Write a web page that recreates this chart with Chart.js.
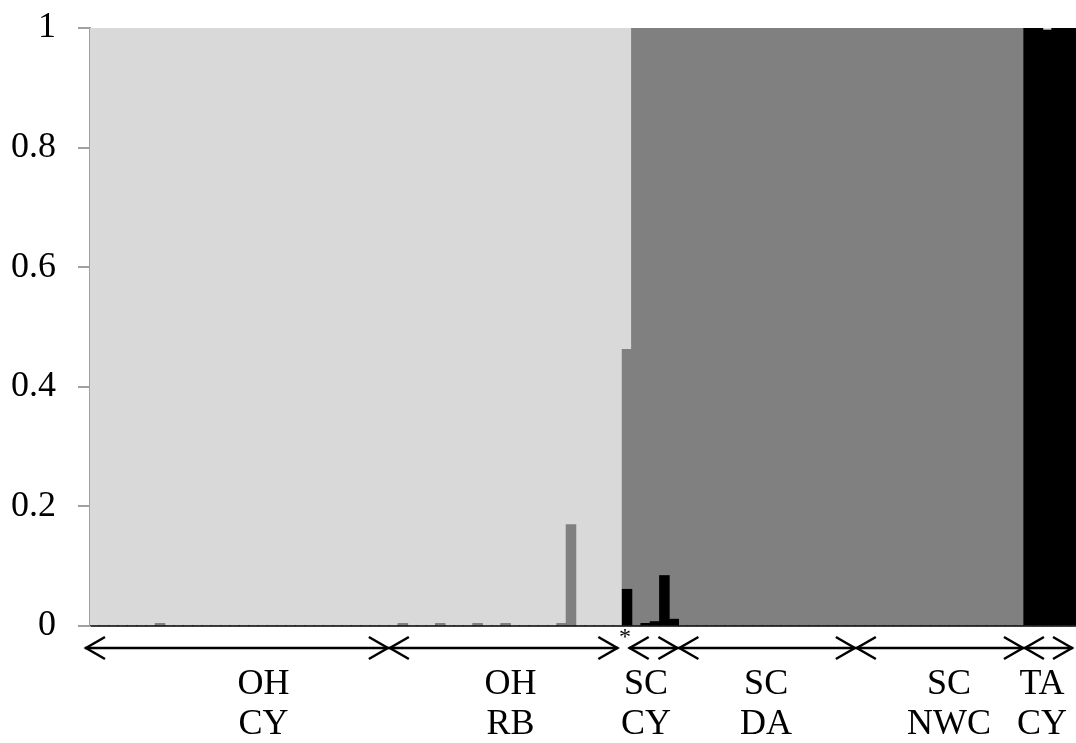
<!DOCTYPE html>
<html>
<head>
<meta charset="utf-8">
<script src="https://cdn.jsdelivr.net/npm/chart.js@4/dist/chart.umd.min.js"></script>
<style>
  html, body { margin: 0; padding: 0; background: #ffffff; overflow: hidden; }
  canvas { display: block; }
</style>
</head>
<body>
<canvas id="c" width="1080" height="743"></canvas>
<script>
// ---- Population groups (label lines, number of individuals) ----
const groupLine1 = ["OH", "OH", "", "SC", "SC", "SC", "TA"];
const groupLine2 = ["CY", "RB", "", "CY", "DA", "NWC", "CY"];
const groupSizes = [32, 25, 1, 5, 19, 18, 6];
const groupMarks = ["arrow", "arrow", "*", "arrow", "arrow", "arrow", "arrow"];

// ---- Y axis ticks ----
const yTicks = [0, 0.2, 0.4, 0.6, 0.8, 1];

// ---- Cluster membership per individual (106 individuals) ----
// cluster 3 (black, bottom of stack)
const clusterBlack = [
  0,0,0,0,0,0,0,0,0,0, 0,0,0,0,0,0,0,0,0,0, 0,0,0,0,0,0,0,0,0,0, 0,0,
  0,0,0,0,0,0,0,0,0,0, 0,0,0,0,0,0,0,0,0,0, 0,0,0,0,0,
  0.061,
  0,0.004,0.007,0.084,0.011,
  0,0,0,0,0,0,0,0,0,0, 0,0,0,0,0,0,0,0,0,
  0,0,0,0,0,0,0,0,0,0, 0,0,0,0,0,0,0,0,
  1,1,0.996,1,1,1
];
// cluster 2 (dark grey, middle of stack)
const clusterDark = [
  0,0,0,0,0,0,0,0.004,0,0, 0,0,0,0,0,0,0,0,0,0, 0,0,0,0,0,0,0,0,0,0, 0,0,
  0,0.004,0,0,0,0.004,0,0,0,0.004, 0,0,0.004,0,0,0,0,0,0.004,0.169, 0,0,0,0,0,
  0.401,
  1,0.996,0.993,0.916,0.989,
  1,1,1,1,1,1,1,1,1,1, 1,1,1,1,1,1,1,1,1,
  1,1,1,1,1,1,1,1,1,1, 1,1,1,1,1,1,1,1,
  0,0,0,0,0,0
];
// cluster 1 (light grey, top of stack)
const clusterLight = [
  1,1,1,1,1,1,1,0.996,1,1, 1,1,1,1,1,1,1,1,1,1, 1,1,1,1,1,1,1,1,1,1, 1,1,
  1,0.996,1,1,1,0.996,1,1,1,0.996, 1,1,0.996,1,1,1,1,1,0.996,0.831, 1,1,1,1,1,
  0.538,
  0,0,0,0,0,
  0,0,0,0,0,0,0,0,0,0, 0,0,0,0,0,0,0,0,0,
  0,0,0,0,0,0,0,0,0,0, 0,0,0,0,0,0,0,0,
  0,0,0.004,0,0,0
];

// categories: one per individual, named after its group
const categories = [];
groupSizes.forEach((n, g) => {
  for (let i = 0; i < n; i++) categories.push((groupLine1[g] + " " + groupLine2[g]).trim() + " " + (i + 1));
});

const SERIF = "'Liberation Serif', 'Times New Roman', serif";

// styling for the group annotations (pixel offsets of labels/arrow ends)
const annot = {
  labelShift: [24, 5, 0, -9, -1, 9, -10],
  arrowStartAdj: [-5, 0, 0, -3, 0, 0, 0],
  arrowEndAdj: [0, -4, 0, 0, 0, 0, -7],
  arrowY: 648,
  line1Y: 685,
  line2Y: 725
};

const groupPlugin = {
  id: 'groups',
  afterDraw(chart) {
    const x = chart.scales.x;
    const ctx = chart.ctx;
    const w = x.getPixelForValue(1) - x.getPixelForValue(0);
    let start = 0;
    ctx.save();
    groupSizes.forEach((n, g) => {
      const left = x.getPixelForValue(start) - w / 2;
      const right = x.getPixelForValue(start + n - 1) + w / 2;
      start += n;
      if (groupMarks[g] === "*") {
        ctx.fillStyle = '#000';
        ctx.font = '24px ' + SERIF;
        ctx.textAlign = 'center';
        ctx.textBaseline = 'middle';
        ctx.fillText('*', (left + right) / 2 - 2, 638);
        return;
      }
      const x1 = left + annot.arrowStartAdj[g];
      const x2 = right + annot.arrowEndAdj[g];
      const y = annot.arrowY;
      ctx.strokeStyle = '#000';
      ctx.lineWidth = 2.5;
      ctx.lineJoin = 'miter';
      ctx.beginPath();
      ctx.moveTo(x1, y); ctx.lineTo(x2, y);
      ctx.stroke();
      ctx.beginPath();
      ctx.moveTo(x1 + 20, y - 11); ctx.lineTo(x1 + 1, y); ctx.lineTo(x1 + 20, y + 11);
      ctx.moveTo(x2 - 20, y - 11); ctx.lineTo(x2 - 1, y); ctx.lineTo(x2 - 20, y + 11);
      ctx.stroke();
      const cx = (left + right) / 2 + annot.labelShift[g];
      ctx.fillStyle = '#000';
      ctx.font = '36px ' + SERIF;
      ctx.textAlign = 'center';
      ctx.textBaseline = 'middle';
      ctx.fillText(groupLine1[g], cx, annot.line1Y);
      ctx.fillText(groupLine2[g], cx, annot.line2Y);
    });
    ctx.restore();
  }
};

const common = { borderWidth: 0, barPercentage: 1, categoryPercentage: 1, inflateAmount: 0.6 };

new Chart(document.getElementById('c'), {
  type: 'bar',
  data: {
    labels: categories,
    datasets: [
      Object.assign({ label: 'Cluster 3', data: clusterBlack, backgroundColor: '#000000' }, common),
      Object.assign({ label: 'Cluster 2', data: clusterDark, backgroundColor: '#808080' }, common),
      Object.assign({ label: 'Cluster 1', data: clusterLight, backgroundColor: '#d9d9d9' }, common)
    ]
  },
  options: {
    responsive: false,
    animation: false,
    layout: { padding: { top: 28, left: 0, right: 0, bottom: 0 } },
    plugins: { legend: { display: false }, tooltip: { enabled: false } },
    scales: {
      x: {
        stacked: true,
        ticks: { display: false },
        grid: { display: false },
        border: { display: true, color: '#404040', width: 2 },
        afterFit(s) { s.height = 117; }
      },
      y: {
        stacked: true,
        min: 0,
        max: 1,
        afterBuildTicks(s) { s.ticks = yTicks.map(v => ({ value: v })); },
        ticks: {
          color: '#000',
          font: { family: SERIF, size: 36 },
          padding: 22,
          callback: v => String(v)
        },
        grid: { drawOnChartArea: false, drawTicks: true, tickLength: 12, color: '#a0a0a0', lineWidth: 2 },
        border: { display: true, color: '#a0a0a0', width: 2 },
        afterFit(s) { s.width = 90; s.paddingTop = 0; s.paddingBottom = 0; }
      }
    }
  },
  plugins: [groupPlugin]
});
</script>
</body>
</html>
